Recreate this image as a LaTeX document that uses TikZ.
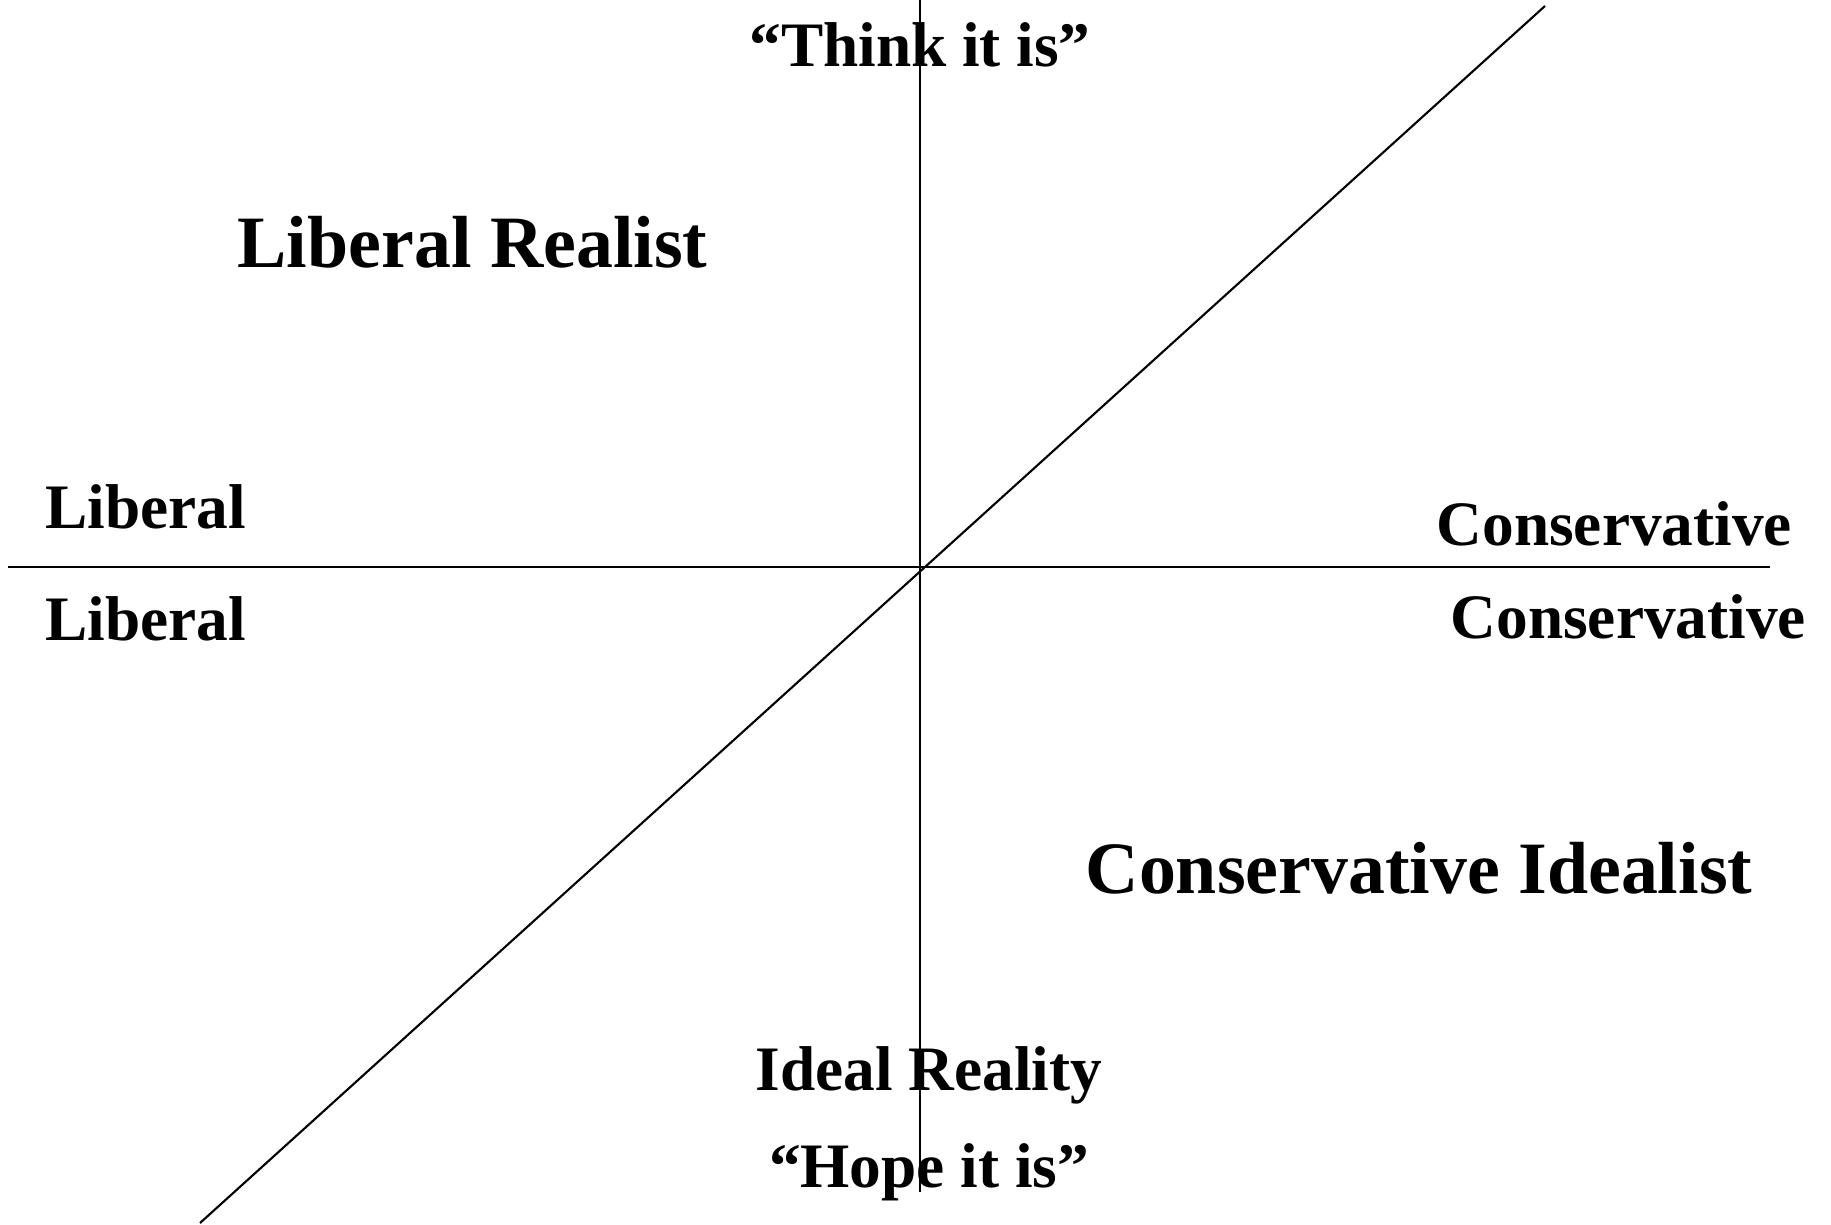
\documentclass[tikz,border=0pt]{standalone}
\usepackage{fontspec}
\setmainfont{Liberation Serif}
\usetikzlibrary{positioning}

\tikzset{
  axis/.style={line width=0.6pt},
  lbl/.style={font=\fontsize{18}{20}\selectfont\bfseries, inner sep=0pt},
  biglbl/.style={font=\fontsize{21}{24}\selectfont\bfseries, inner sep=0pt}
}

\begin{document}
\begin{tikzpicture}[x=0.01cm, y=-0.01cm]
    \useasboundingbox (0,0) rectangle (1831,1224);
    % Axis end points
    \coordinate (vtop) at (920,0);
    \coordinate (vbot) at (920,1192);
    \coordinate (hleft) at (8,567);
    \coordinate (hright) at (1770,567);
    \coordinate (dlow) at (200,1223);
    \coordinate (dhigh) at (1545,6);
    % Axes
    \draw[axis] (vtop) -- (vbot);
    \draw[axis] (hleft) -- (hright);
    \draw[axis] (dlow) -- (dhigh);
    % Top and bottom labels
    \node[lbl, anchor=base] (think) at (920,67) {``Think it is''};
    \node[lbl, anchor=base] (ideal) at (929,1090) {Ideal Reality};
    \node[lbl, anchor=base] (hope) at (929,1187) {``Hope it is''};
    % Side labels
    \node[lbl, anchor=base west] (libtop) at (45,528) {Liberal};
    \node[lbl, anchor=base west] (libbot) at (45,640) {Liberal};
    \node[lbl, anchor=base west] (constop) at (1436,545) {Conservative};
    \node[lbl, anchor=base west] (consbot) at (1450,638) {Conservative};
    % Quadrant labels
    \node[biglbl, anchor=base west] (realist) at (237,267) {Liberal Realist};
    \node[biglbl, anchor=base west] (idealist) at (1085,893) {Conservative Idealist};
\end{tikzpicture}
\end{document}
